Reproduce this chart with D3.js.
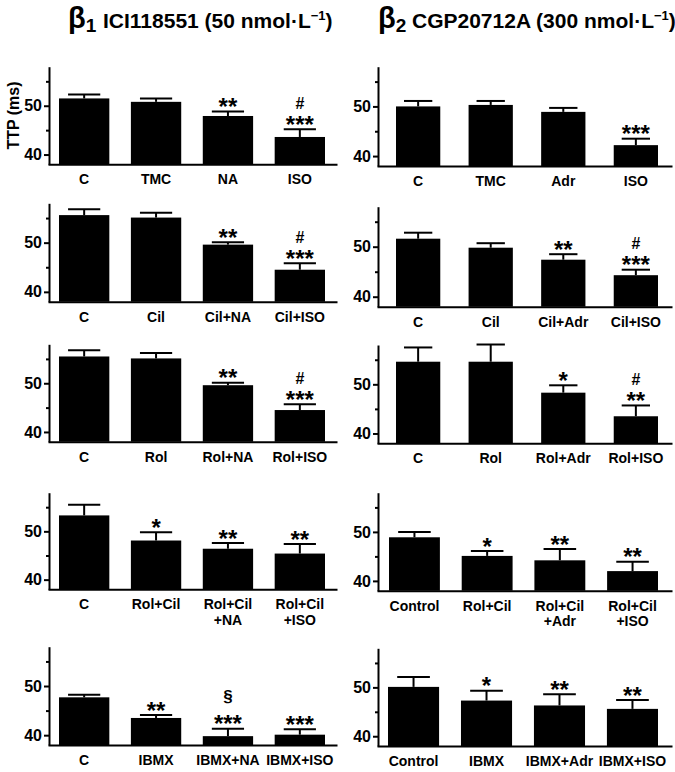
<!DOCTYPE html>
<html><head><meta charset="utf-8">
<script src="https://cdn.jsdelivr.net/npm/d3@7"></script>
<style>
body{margin:0;background:#fff}
svg text{font-family:"Liberation Sans",Arial,Helvetica,sans-serif;font-weight:bold;fill:#000}
</style>
</head><body>
<svg id="chart" width="675" height="772"></svg>
<script>
// ---------- data ----------
const yDomain = [38, 58];
const yTicks = [40, 50];
const yMinorTicks = [45, 55];
const yLabelText = "TTP (ms)";

// left column: β1 ICI118551
const catsL1 = ["C", "TMC", "NA", "ISO"];
const meanL1 = [51.5, 50.8, 47.9, 43.6];
const semL1  = [0.8, 0.7, 0.9, 1.6];
const starL1 = ["", "", "**", "***"];
const markL1 = ["", "", "", "#"];

const catsL2 = ["C", "Cil", "Cil+NA", "Cil+ISO"];
const meanL2 = [55.6, 55.1, 49.6, 44.5];
const semL2  = [1.2, 1.0, 0.5, 1.3];
const starL2 = ["", "", "**", "***"];
const markL2 = ["", "", "", "#"];

const catsL3 = ["C", "Rol", "Rol+NA", "Rol+ISO"];
const meanL3 = [55.5, 55.1, 49.6, 44.5];
const semL3  = [1.3, 1.1, 0.5, 1.2];
const starL3 = ["", "", "**", "***"];
const markL3 = ["", "", "", "#"];

const catsL4 = ["C", "Rol+Cil", "Rol+Cil\n+NA", "Rol+Cil\n+ISO"];
const meanL4 = [53.3, 48.1, 46.4, 45.4];
const semL4  = [2.2, 1.7, 1.2, 2.0];
const starL4 = ["", "*", "**", "**"];
const markL4 = ["", "", "", ""];

const catsL5 = ["C", "IBMX", "IBMX+NA", "IBMX+ISO"];
const meanL5 = [47.7, 43.5, 39.8, 40.1];
const semL5  = [0.5, 0.6, 1.5, 1.1];
const starL5 = ["", "**", "***", "***"];
const markL5 = ["", "", "§", ""];

// right column: β2 CGP20712A
const catsR1 = ["C", "TMC", "Adr", "ISO"];
const meanR1 = [50.0, 50.3, 48.9, 42.2];
const semR1  = [1.1, 0.8, 0.8, 1.3];
const starR1 = ["", "", "", "***"];
const markR1 = ["", "", "", ""];

const catsR2 = ["C", "Cil", "Cil+Adr", "Cil+ISO"];
const meanR2 = [51.6, 49.8, 47.4, 44.3];
const semR2  = [1.2, 0.9, 1.1, 1.1];
const starR2 = ["", "", "**", "***"];
const markR2 = ["", "", "", "#"];

const catsR3 = ["C", "Rol", "Rol+Adr", "Rol+ISO"];
const meanR3 = [54.6, 54.6, 48.3, 43.5];
const semR3  = [2.9, 3.5, 1.5, 2.2];
const starR3 = ["", "", "*", "**"];
const markR3 = ["", "", "", "#"];

const catsR4 = ["Control", "Rol+Cil", "Rol+Cil\n+Adr", "Rol+Cil\n+ISO"];
const meanR4 = [48.9, 45.1, 44.2, 42.0];
const semR4  = [1.1, 1.0, 2.3, 1.9];
const starR4 = ["", "*", "**", "**"];
const markR4 = ["", "", "", ""];

const catsR5 = ["Control", "IBMX", "IBMX+Adr", "IBMX+ISO"];
const meanR5 = [50.1, 47.3, 46.3, 45.6];
const semR5  = [2.0, 2.0, 2.3, 1.8];
const starR5 = ["", "*", "**", "**"];
const markR5 = ["", "", "", ""];

const titleL = {greek: "β", sub: "1", text: "ICI118551 (50 nmol·L", sup: "−1", end: ")"};
const titleR = {greek: "β", sub: "2", text: "CGP20712A (300 nmol·L", sup: "−1", end: ")"};

// ---------- layout ----------
const cols = {
  L: {axisX: 49, width: 288, bandFrom: 10, bandTo: 276, pad: 0.3, titleX: 68, textX: 103},
  R: {axisX: 378, width: 294, bandFrom: 18, bandTo: 280, pad: 0.39, titleX: 378, textX: 412}
};
const panels = [
  {col: "L", top: 66.7, bottom: 164.3, cats: catsL1, mean: meanL1, sem: semL1, star: starL1, mark: markL1, ylab: true},
  {col: "L", top: 203.3, bottom: 301.7, cats: catsL2, mean: meanL2, sem: semL2, star: starL2, mark: markL2},
  {col: "L", top: 344.3, bottom: 441.7, cats: catsL3, mean: meanL3, sem: semL3, star: starL3, mark: markL3},
  {col: "L", top: 492.7, bottom: 589.3, cats: catsL4, mean: meanL4, sem: semL4, star: starL4, mark: markL4},
  {col: "L", top: 646.7, bottom: 745.0, cats: catsL5, mean: meanL5, sem: semL5, star: starL5, mark: markL5},
  {col: "R", top: 66.7, bottom: 166.0, cats: catsR1, mean: meanR1, sem: semR1, star: starR1, mark: markR1},
  {col: "R", top: 206.7, bottom: 306.7, cats: catsR2, mean: meanR2, sem: semR2, star: starR2, mark: markR2},
  {col: "R", top: 345.0, bottom: 443.3, cats: catsR3, mean: meanR3, sem: semR3, star: starR3, mark: markR3},
  {col: "R", top: 492.7, bottom: 590.7, cats: catsR4, mean: meanR4, sem: semR4, star: starR4, mark: markR4, bandFrom: 11, pad: 0.3},
  {col: "R", top: 648.3, bottom: 746.0, cats: catsR5, mean: meanR5, sem: semR5, star: starR5, mark: markR5, bandFrom: 10, pad: 0.3}
];

const svg = d3.select("#chart");
const FONT = '"Liberation Sans",Arial,Helvetica,sans-serif';
const STAR = 24, MARK = 16, SECT = 17;

// ---------- titles ----------
function drawTitle(t, c) {
  const g = svg.append("text").attr("x", c.titleX).attr("y", 28);
  g.append("tspan").attr("font-size", 29).text(t.greek);
  g.append("tspan").attr("font-size", 19).attr("dy", 4).text(t.sub);
  g.append("tspan").attr("x", c.textX).attr("dy", -4).attr("font-size", 21).text(t.text);
  g.append("tspan").attr("font-size", 13).attr("dy", -8).text(t.sup);
  g.append("tspan").attr("font-size", 21).attr("dy", 8).text(t.end);
}
drawTitle(titleL, cols.L);
drawTitle(titleR, cols.R);

// ---------- panels ----------
panels.forEach(p => {
  const c = cols[p.col];
  const bandFrom = p.bandFrom != null ? p.bandFrom : c.bandFrom;
  const pad = p.pad != null ? p.pad : c.pad;
  const y = d3.scaleLinear().domain(yDomain).range([p.bottom, p.top]);
  const x = d3.scaleBand().domain(p.cats)
    .range([c.axisX + bandFrom, c.axisX + c.bandTo]).paddingInner(pad).paddingOuter(0);
  const g = svg.append("g");

  const rows = p.cats.map((k, i) => ({k, m: p.mean[i], e: p.sem[i], s: p.star[i], h: p.mark[i]}));

  // bars
  g.selectAll("rect.bar").data(rows).join("rect")
    .attr("x", d => x(d.k)).attr("width", x.bandwidth())
    .attr("y", d => y(d.m)).attr("height", d => y(yDomain[0]) - y(d.m))
    .attr("fill", "#000");

  // error bars (upper)
  const capW = x.bandwidth() * 0.64;
  const cx = d => x(d.k) + x.bandwidth() / 2;
  g.selectAll("line.err").data(rows).join("line")
    .attr("x1", cx).attr("x2", cx)
    .attr("y1", d => y(d.m)).attr("y2", d => y(d.m + d.e))
    .attr("stroke", "#000").attr("stroke-width", 2);
  g.selectAll("line.cap").data(rows).join("line")
    .attr("x1", d => cx(d) - capW / 2).attr("x2", d => cx(d) + capW / 2)
    .attr("y1", d => y(d.m + d.e)).attr("y2", d => y(d.m + d.e))
    .attr("stroke", "#000").attr("stroke-width", 2);

  // significance marks
  const starCenter = d => y(d.m + d.e) - 10;
  g.selectAll("text.star").data(rows.filter(d => d.s)).join("text")
    .attr("x", cx)
    .attr("y", d => starCenter(d) + 0.57 * STAR)
    .attr("text-anchor", "middle").attr("font-size", STAR).text(d => d.s);
  g.selectAll("text.mark").data(rows.filter(d => d.h)).join("text")
    .attr("x", cx)
    .attr("y", d => d.h === "§" ? starCenter(d) - 21 + 0.26 * SECT : starCenter(d) - 16 + 0.35 * MARK)
    .attr("text-anchor", "middle").attr("font-size", d => d.h === "§" ? SECT : MARK)
    .attr("font-weight", d => d.h === "§" ? "normal" : "bold")
    .text(d => d.h);

  // y axis (major + minor)
  const ya = g.append("g").attr("transform", `translate(${c.axisX},0)`)
    .call(d3.axisLeft(y).tickValues(yTicks).tickSize(5).tickSizeOuter(0).tickPadding(2).tickFormat(d3.format("d")));
  ya.select(".domain").attr("stroke-width", 2);
  ya.selectAll(".tick line").attr("stroke-width", 2);
  ya.selectAll(".tick text").attr("font-size", 16).attr("font-family", FONT).attr("font-weight", "bold");
  const ym = g.append("g").attr("transform", `translate(${c.axisX},0)`)
    .call(d3.axisLeft(y).tickValues(yMinorTicks).tickSize(3).tickFormat(""));
  ym.select(".domain").remove();
  ym.selectAll(".tick line").attr("stroke-width", 2);

  // x axis line across full plot width
  const xl = d3.scaleLinear().domain([0, 1]).range([c.axisX - 1, c.axisX + c.width]);
  const xa = g.append("g").attr("transform", `translate(0,${y(yDomain[0])})`)
    .call(d3.axisBottom(xl).tickValues([]).tickSizeOuter(0));
  xa.select(".domain").attr("stroke-width", 2);

  // category labels
  const xc = g.append("g").attr("transform", `translate(0,${y(yDomain[0])})`)
    .call(d3.axisBottom(x).tickSize(0).tickSizeOuter(0));
  xc.select(".domain").remove();
  xc.selectAll(".tick text").each(function(d) {
    const t = d3.select(this);
    const parts = d.split("\n");
    t.text(null).attr("y", 20).attr("dy", null)
      .attr("font-size", 14).attr("font-family", FONT).attr("font-weight", "bold");
    parts.forEach((s, i) => t.append("tspan").attr("x", 0).attr("dy", i ? 15.5 : 0).text(s));
  });

  if (p.ylab) {
    svg.append("text")
      .attr("transform", `translate(19,${(p.top + p.bottom) / 2}) rotate(-90)`)
      .attr("text-anchor", "middle").attr("font-size", 16).text(yLabelText);
  }
});
</script>
</body></html>
